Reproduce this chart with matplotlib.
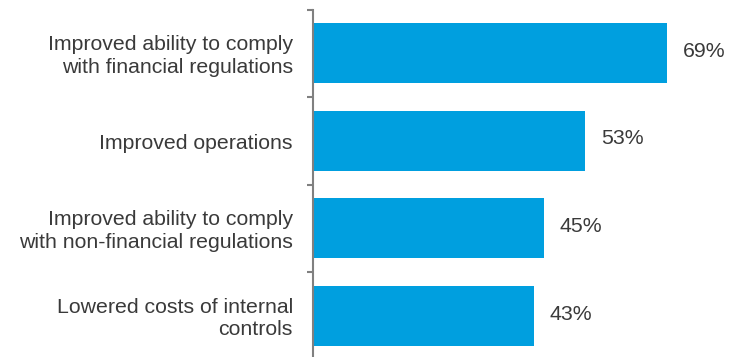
import matplotlib
matplotlib.use("Agg")
import matplotlib.pyplot as plt

categories = [
    "Improved ability to comply\nwith financial regulations",
    "Improved operations",
    "Improved ability to comply\nwith non-financial regulations",
    "Lowered costs of internal\ncontrols",
]
values = [69, 53, 45, 43]
value_labels = ["69%", "53%", "45%", "43%"]

plt.rcParams['font.family'] = ['Liberation Sans', 'DejaVu Sans']

fig = plt.figure(figsize=(7.38, 3.57), dpi=100)
ax = fig.add_axes([313/738, 1 - 359.5/357, 1 - 313/738, 350/357])

bar_color = "#009FDF"
text_color = "#3A3A3A"
ypos = list(range(len(categories)))
ax.barh(ypos, values, height=0.686, color=bar_color, edgecolor="none")
ax.set_ylim(3.5, -0.5)
ax.set_xlim(0, 425/5.13)

for y, v, lab in zip(ypos, values, value_labels):
    ax.text(v + 3.1, y - 0.02, lab, va="center", ha="left", fontsize=15.3, color=text_color)

for y, cat in zip(ypos, categories):
    ax.text(-3.9, y + 0.03, cat, va="center", ha="right", fontsize=15.3, color=text_color,
            linespacing=1.22, transform=ax.transData, clip_on=False)

for s in ["top", "right", "bottom"]:
    ax.spines[s].set_visible(False)
ax.spines["left"].set_color("#808080")
ax.spines["left"].set_linewidth(1.5)
ax.set_xticks([])
ax.set_yticks([-0.5, 0.5, 1.5, 2.5, 3.5])
ax.set_yticklabels([])
ax.tick_params(axis="y", direction="out", length=4.5, width=1.5, color="#808080")

fig.savefig("out.png", dpi=100)
